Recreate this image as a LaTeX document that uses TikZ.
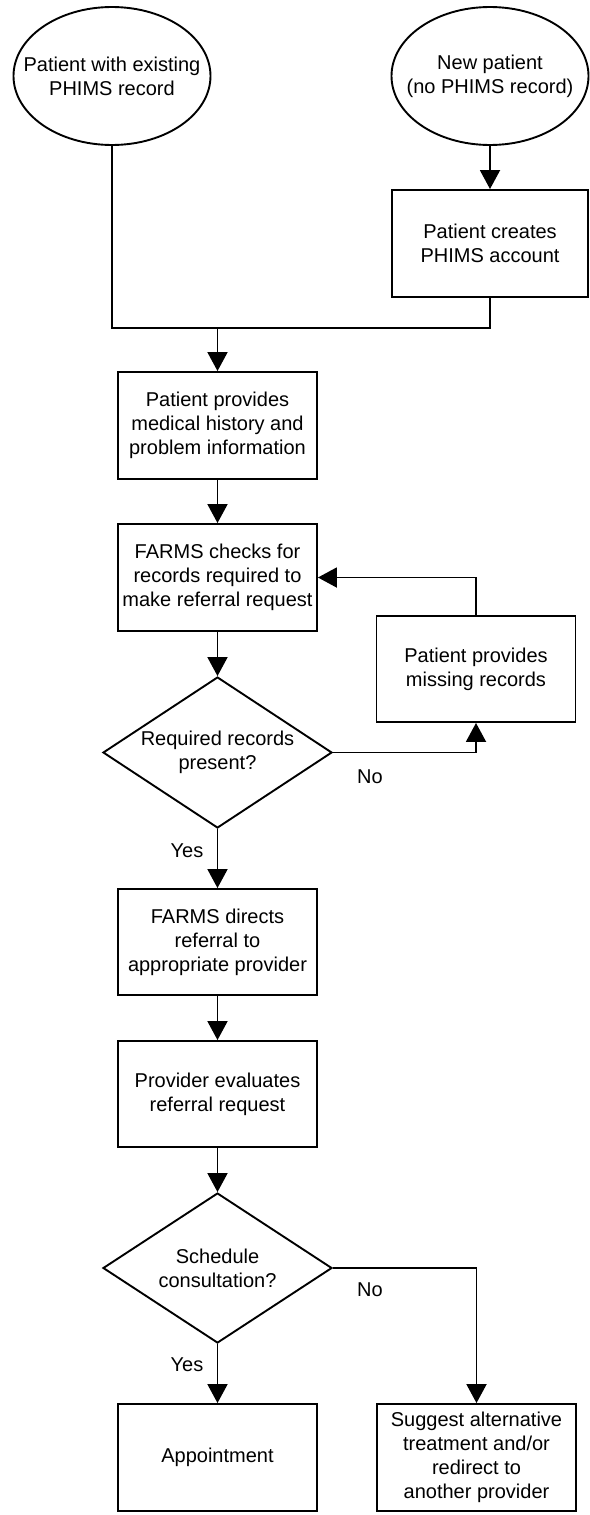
\documentclass[tikz,border=0pt]{standalone}
\usepackage{fontspec}
\setmainfont{Liberation Sans}
\usetikzlibrary{shapes.geometric,arrows.meta}
\begin{document}
\begin{tikzpicture}[x=1pt,y=-1pt,
  every node/.style={font=\fontsize{20}{24}\selectfont, align=center},
  proc/.style={draw, line width=1.9pt, rectangle, minimum width=199pt, minimum height=107pt, inner sep=0pt},
  term/.style={draw, line width=1.9pt, ellipse, minimum width=197pt, minimum height=138pt, inner xsep=-30pt, inner ysep=0pt},
  decide/.style={draw, line width=1.9pt, diamond, aspect=1.52, minimum width=229pt, minimum height=151pt, inner sep=-8pt},
  flow/.style={line width=1.9pt, -{Triangle[length=19pt,width=20pt]}},
  plain/.style={line width=1.9pt},
  lbl/.style={inner sep=0pt}
]
\useasboundingbox (0,0) rectangle (589,1515);

\node[term] (e1) at (112,76) {Patient with existing\\PHIMS record};
\node[term] (e2) at (490,76) {New patient\\(no PHIMS record)};
\node[proc, minimum width=196pt] (create) at (490,243.5) {Patient creates\\PHIMS account};
\node[proc] (hist) at (217.5,425.5) {Patient provides\\medical history and\\problem information};
\node[proc] (check) at (217.5,577.5) {FARMS checks for\\records required to\\make referral request};
\node[proc, minimum height=106pt] (miss) at (476,669) {Patient provides\\missing records};
\node[decide] (d1) at (217.5,752.5) {Required records\\present?};
\node[proc, minimum height=106pt] (direct) at (217.5,942) {FARMS directs\\referral to\\appropriate provider};
\node[proc, minimum height=106pt] (eval) at (217.5,1094) {Provider evaluates\\referral request};
\node[decide, minimum height=150pt] (d2) at (217.5,1268) {Schedule\\consultation?};
\node[proc] (appt) at (217.5,1457.5) {Appointment};
\node[proc] (alt) at (476.5,1457.5) {Suggest alternative\\treatment and/or\\redirect to\\another provider};

\coordinate (J) at (217.5,328);

\draw[flow] (e2) -- (create);
\draw[plain] (e1) -- (e1 |- J) -- (create |- J) -- (create.south);
\draw[flow] (J) -- (hist);
\draw[flow] (hist) -- (check);
\draw[flow] (check) -- (d1);
\draw[flow] (d1.east) -| (miss.south);
\draw[flow] (miss.north) |- (check.east);
\draw[flow] (d1) -- (direct);
\draw[flow] (direct) -- (eval);
\draw[flow] (eval) -- (d2);
\draw[flow] (d2) -- (appt);
\draw[flow] (d2.east) -| (alt.north);

\node[lbl] (no1) at (370,777) {No};
\node[lbl] (yes1) at (187,851) {Yes};
\node[lbl] (no2) at (370,1290) {No};
\node[lbl] (yes2) at (187,1365) {Yes};
\end{tikzpicture}
\end{document}
